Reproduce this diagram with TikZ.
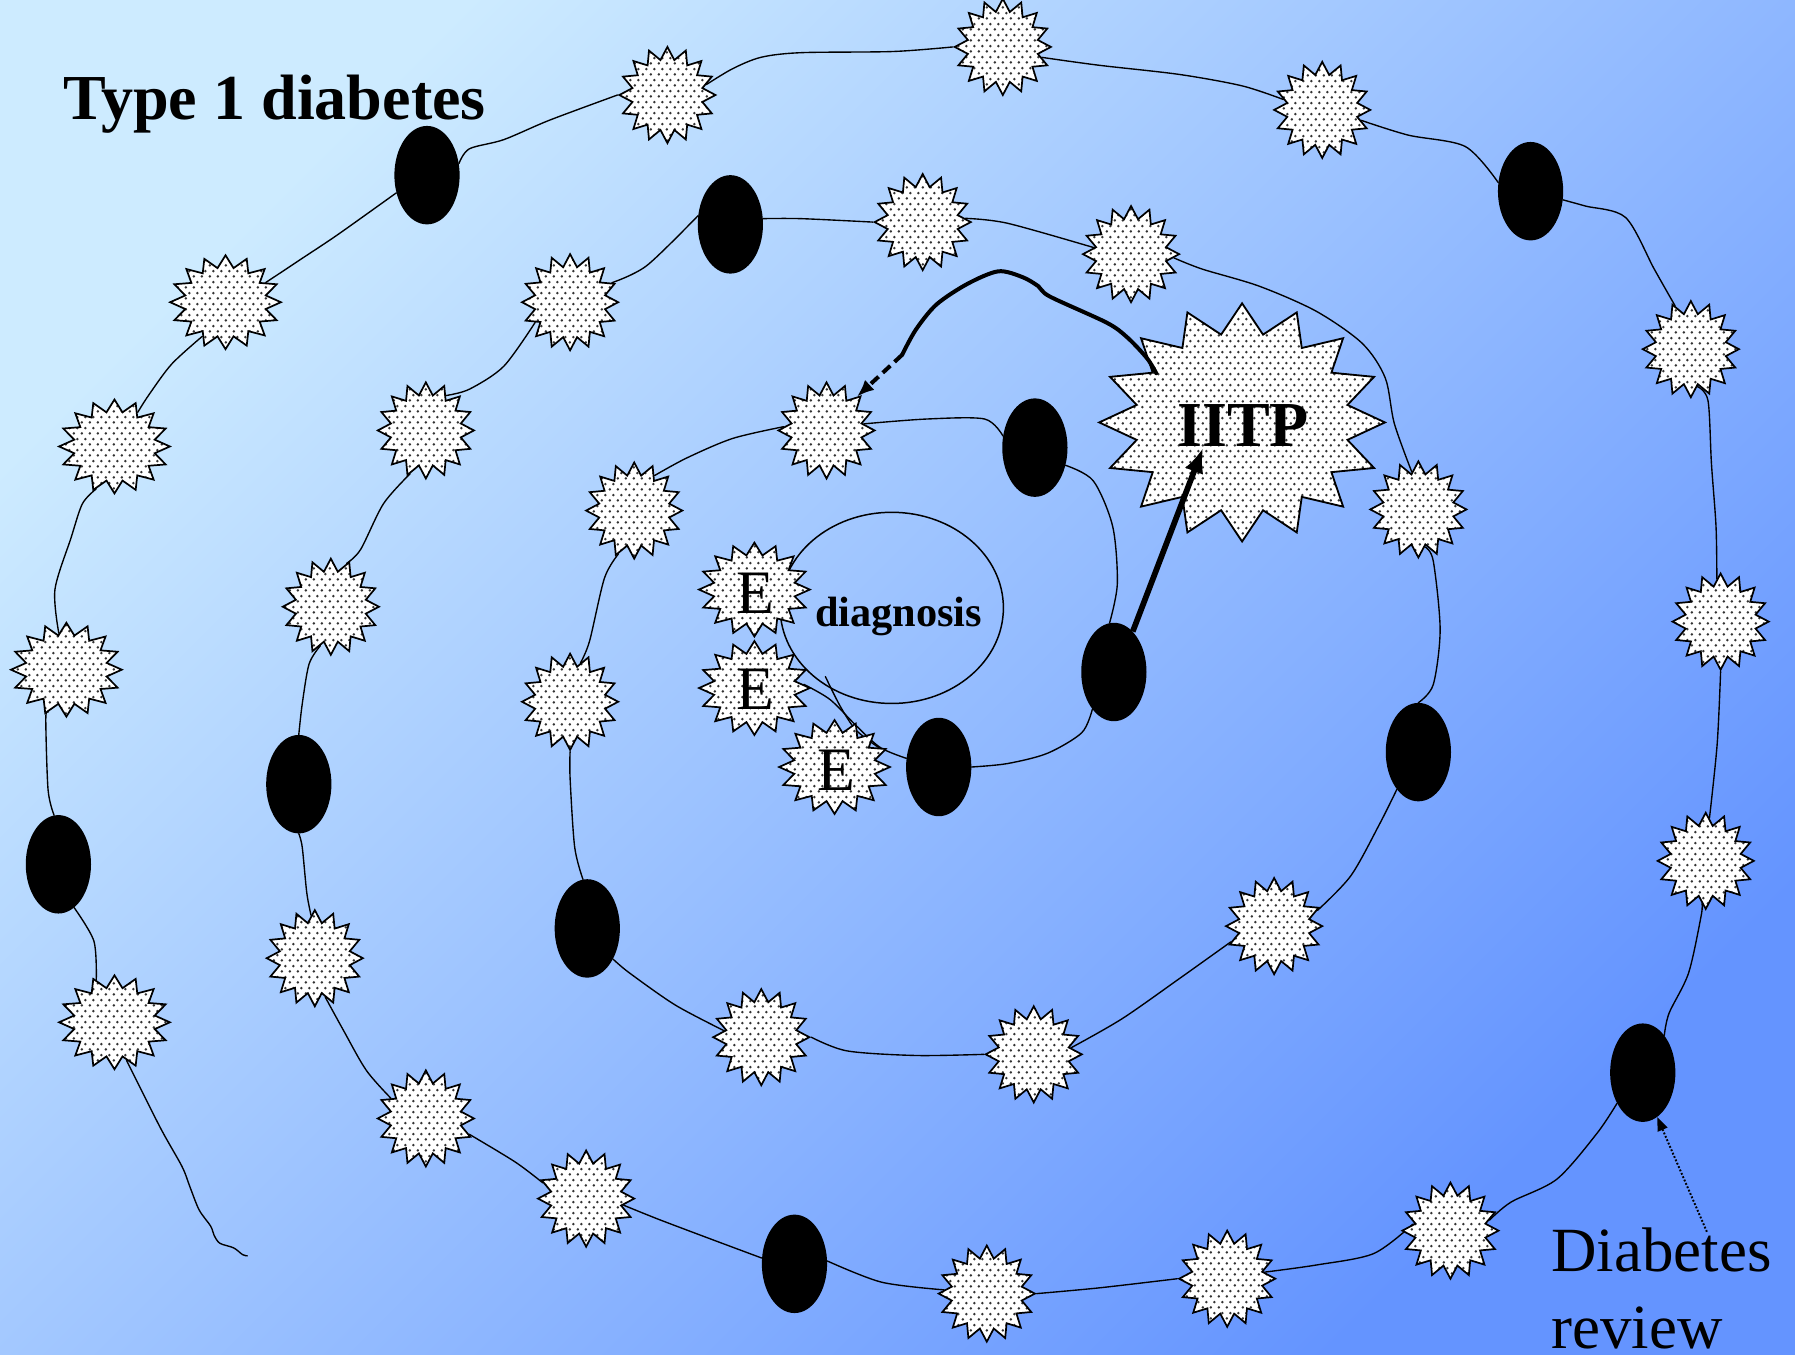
\documentclass[tikz,border=0pt]{standalone}
\usepackage{fontspec}
\setmainfont{Liberation Serif}
\usetikzlibrary{shapes.geometric,patterns.meta,arrows.meta}
\definecolor{bgA}{RGB}{205,235,255}
\definecolor{bgB}{RGB}{100,148,255}
\pgfdeclarelayer{bglayer}
\pgfdeclarelayer{linelayer}
\pgfsetlayers{bglayer,linelayer,main}
\pgfdeclarepattern{
  name=hexdots,
  type=uncolored,
  bottom left={\pgfpoint{0pt}{0pt}},
  top right={\pgfpoint{7pt}{9.8pt}},
  tile size={\pgfpoint{7pt}{9.8pt}},
  code={
    \pgfpathcircle{\pgfpoint{1.75pt}{2.45pt}}{1.3pt}
    \pgfpathcircle{\pgfpoint{5.25pt}{7.35pt}}{1.3pt}
    \pgfusepath{fill}
  }
}
\begin{document}
\begin{tikzpicture}[x=1pt,y=-1pt,
  dotfill/.style={preaction={fill=white}, pattern=hexdots, pattern color=black!80},
  sstar/.style={star, star points=16, star point ratio=1.35, minimum size=84pt,
    inner sep=0pt, draw=black, line width=1.5pt, dotfill},
  wstar/.style={sstar, minimum size=82pt, xscale=1.18},
  bigstar/.style={star, star points=16, star point ratio=1.33, minimum size=208pt,
    inner sep=0pt, draw=black, line width=1.6pt, dotfill, xscale=1.2},
  blob/.style={ellipse, fill=black, minimum width=57pt, minimum height=86pt, inner sep=0pt},
  diag/.style={ellipse, draw=black, line width=1.3pt, minimum width=195pt, minimum height=167pt, inner sep=0pt},
  spiral/.style={line width=1.2pt, line cap=round, line join=round},
  bigtext/.style={font=\bfseries\fontsize{56}{66}\selectfont, inner sep=0pt},
  etext/.style={font=\fontsize{54}{64}\selectfont, inner sep=0pt},
  thickarrow/.style={line width=5pt, -{Latex[length=22pt,width=17pt]}},
]
\useasboundingbox (0,0) rectangle (1568,1183);
\begin{pgfonlayer}{bglayer}
\shade[shading=axis, top color=bgA, bottom color=bgB, shading angle=45] (0,0) rectangle (1568,1183);
\end{pgfonlayer}

% ---- nodes ----
\node[wstar] (o1) at (100,893) {};
\node[blob] (oe1) at (51,755) {};
\node[wstar] (o2) at (58,585) {};
\node[wstar] (o3) at (100,390) {};
\node[wstar] (o4) at (197,264) {};
\node[blob] (oe2) at (373,153) {};
\node[sstar] (o5) at (583,83) {};
\node[sstar] (o6) at (876,41) {};
\node[sstar] (o7) at (1155,96) {};
\node[blob] (oe3) at (1337,167) {};
\node[sstar] (o8) at (1477,305) {};
\node[sstar] (o9) at (1503,543) {};
\node[sstar] (o10) at (1490,752) {};
\node[blob] (oe4) at (1435,937) {};
\node[sstar] (o11) at (1267,1075) {};
\node[sstar] (o12) at (1072,1117) {};
\node[sstar] (o13) at (862,1130) {};
\node[blob] (oe5) at (694,1104) {};
\node[sstar] (o14) at (512,1047) {};
\node[sstar] (o15) at (372,977) {};
\node[sstar] (o16) at (275,837) {};
\node[blob] (oe6) at (261,685) {};
\node[sstar] (o17) at (289,530) {};
\node[sstar] (o18) at (372,376) {};
\node[sstar] (o19) at (498,264) {};
\node[blob] (oe7) at (638,196) {};
\node[sstar] (o20) at (806,194) {};
\node[sstar] (o21) at (988,222) {};
\node[sstar] (o22) at (1239,445) {};
\node[blob] (oe8) at (1239,657) {};
\node[sstar] (o23) at (1113,809) {};
\node[sstar] (o24) at (903,921) {};
\node[sstar] (o25) at (665,906) {};
\node[blob] (oe9) at (513,811) {};
\node[sstar] (o26) at (498,613) {};
\node[sstar] (o27) at (554,446) {};
\node[sstar] (o28) at (722,376) {};
\node[blob] (oe10) at (904,391) {};
\node[blob] (oe11) at (973,587) {};
\node[blob] (oe12) at (820,670) {};
\node[diag] (dg) at (779,531) {};
\node[wstar] (eA) at (659,515) {};
\node[wstar] (eB) at (659,601) {};
\node[wstar] (eC) at (729,670) {};
\node[etext] (eAt) at (660,518) {E};
\node[etext] (eBt) at (660,602) {E};
\node[etext] (eCt) at (731,673) {E};
\node[bigstar] (iitpstar) at (1085,369) {};
\node[bigtext, anchor=base] (iitp) at (1086,390) {IITP};
\node[bigtext, anchor=base west] (title) at (55,104) {Type 1 diabetes};
\node[font=\bfseries\fontsize{37}{44}\selectfont, inner sep=0pt, anchor=base] (dgt) at (785,547) {diagnosis};
\node[font=\fontsize{55}{68}\selectfont, inner sep=0pt, anchor=north west, align=left] (rev) at (1355,1072) {Diabetes\\review};

\coordinate (tailend) at (216,1097);
\coordinate (innerend) at (721,591);
\coordinate (iitptip) at (1051,391);
\coordinate (iitpedge) at (1010,326);
\coordinate (bend) at (788,310);
\coordinate (revstart) at (1491,1076);

% ---- spiral ----
\begin{pgfonlayer}{linelayer}
\draw[spiral] plot[smooth,tension=0.5] coordinates {(tailend) (212,1096) (204,1090) (192,1086) (187,1079) (184,1071) (174,1057) (166,1037) (159,1019) (140,985) (o1.-75)};
\draw[spiral] plot[smooth,tension=0.5] coordinates {(o1.110) (82,822) (oe1.-70)};
\draw[spiral] plot[smooth,tension=0.5] coordinates {(oe1.95) (42,690) (40,628) (o2.-110)};
\draw[spiral] plot[smooth,tension=0.5] coordinates {(o2.100) (48,515) (62,470) (72,440) (o3.-110)};
\draw[spiral] plot[smooth,tension=0.5] coordinates {(o3.60) (130,345) (150,318) (o4.-120)};
\draw[spiral] plot[smooth,tension=0.5] coordinates {(o4.30) (265,225) (295,205) (oe2.-150)};
\draw[spiral] plot[smooth,tension=0.5] coordinates {(oe2.20) (410,130) (440,122) (480,105) (o5.180)};
\draw[spiral] plot[smooth,tension=0.5] coordinates {(o5.15) (640,60) (665,50) (700,46) (780,45) (o6.180)};
\draw[spiral] plot[smooth,tension=0.5] coordinates {(o6.-15) (960,57) (1030,65) (1085,75) (o7.165)};
\draw[spiral] plot[smooth,tension=0.5] coordinates {(o7.-15) (1230,118) (1280,128) (oe3.165)};
\draw[spiral] plot[smooth,tension=0.5] coordinates {(oe3.-15) (1385,180) (1420,190) (1445,235) (o8.110)};
\draw[spiral] plot[smooth,tension=0.5] coordinates {(o8.-80) (1492,350) (1495,405) (1499,460) (o9.95)};
\draw[spiral] plot[smooth,tension=0.5] coordinates {(o9.-90) (1500,650) (o10.85)};
\draw[spiral] plot[smooth,tension=0.5] coordinates {(o10.-95) (1486,800) (1475,850) (1458,885) (oe4.60)};
\draw[spiral] plot[smooth,tension=0.5] coordinates {(oe4.-130) (1395,990) (1360,1030) (1320,1050) (o11.15)};
\draw[spiral] plot[smooth,tension=0.5] coordinates {(o11.170) (1200,1095) (1150,1105) (o12.10)};
\draw[spiral] plot[smooth,tension=0.5] coordinates {(o12.180) (960,1125) (o13.0)};
\draw[spiral] plot[smooth,tension=0.5] coordinates {(o13.175) (770,1120) (oe5.5)};
\draw[spiral] plot[smooth,tension=0.5] coordinates {(oe5.170) (620,1082) (575,1065) (o14.-10)};
\draw[spiral] plot[smooth,tension=0.5] coordinates {(o14.160) (450,1015) (o15.-20)};
\draw[spiral] plot[smooth,tension=0.5] coordinates {(o15.150) (320,935) (300,900) (o16.-75)};
\draw[spiral] plot[smooth,tension=0.5] coordinates {(o16.95) (268,780) (264,740) (oe6.-90)};
\draw[spiral] plot[smooth,tension=0.5] coordinates {(oe6.90) (264,615) (270,580) (o17.-105)};
\draw[spiral] plot[smooth,tension=0.5] coordinates {(o17.70) (315,480) (335,440) (o18.-110)};
\draw[spiral] plot[smooth,tension=0.5] coordinates {(o18.60) (410,340) (440,320) (o19.-150)};
\draw[spiral] plot[smooth,tension=0.5] coordinates {(o19.25) (565,232) (oe7.165)};
\draw[spiral] plot[smooth,tension=0.5] coordinates {(oe7.10) (700,191) (o20.180)};
\draw[spiral] plot[smooth,tension=0.5] coordinates {(o20.5) (880,195) (o21.170)};
\draw[spiral] plot[smooth,tension=0.5] coordinates {(o21.-5) (1050,235) (1100,250) (1150,272) (1190,300) (1210,330) (1218,370) (o22.100)};
\draw[spiral] plot[smooth,tension=0.5] coordinates {(o22.-80) (1252,490) (1258,550) (1252,598) (oe8.90)};
\draw[spiral] plot[smooth,tension=0.5] coordinates {(oe8.-120) (1205,720) (1180,765) (o23.20)};
\draw[spiral] plot[smooth,tension=0.5] coordinates {(o23.-160) (1030,855) (980,890) (o24.10)};
\draw[spiral] plot[smooth,tension=0.5] coordinates {(o24.180) (800,922) (740,918) (o25.0)};
\draw[spiral] plot[smooth,tension=0.5] coordinates {(o25.170) (590,878) (550,850) (oe9.-50)};
\draw[spiral] plot[smooth,tension=0.5] coordinates {(oe9.95) (502,740) (498,680) (o26.-90)};
\draw[spiral] plot[smooth,tension=0.5] coordinates {(o26.75) (515,560) (528,505) (o27.-110)};
\draw[spiral] plot[smooth,tension=0.5] coordinates {(o27.60) (600,400) (640,383) (o28.175)};
\draw[spiral] plot[smooth,tension=0.5] coordinates {(o28.10) (810,366) (860,366) (oe10.160)};
\draw[spiral] plot[smooth,tension=0.5] coordinates {(oe10.-30) (955,420) (972,460) (976,510) (oe11.95)};
\draw[spiral] plot[smooth,tension=0.5] coordinates {(oe11.-120) (945,640) (915,658) (880,667) (oe12.0)};
\draw[spiral] plot[smooth,tension=0.5] coordinates {(oe12.165) (769,653) (748,634) (725,611) (eB.5)};
\draw[spiral] plot[smooth,tension=0.5] coordinates {(innerend) (734,617) (748,638) (769,654)};
\end{pgfonlayer}

% ---- arrows ----
\draw[thickarrow] (oe11.65) -- (iitptip);
\draw[line width=3.5pt, line cap=round, line join=round] plot[smooth,tension=0.5] coordinates {(iitpedge) (1002,313) (985,295) (967,282) (917,259) (907,250) (893,242) (872,237) (845,248) (818,266) (800,288) (bend)};
\draw[line width=3.5pt, dash pattern=on 9pt off 5pt, -{Latex[length=15pt,width=12pt]}] (bend) -- (o28.48);
\draw[line width=1.7pt, dash pattern=on 1.6pt off 1.6pt, -{Triangle[length=12pt,width=9pt]}] (revstart) -- (oe4.-72);
\end{tikzpicture}
\end{document}
